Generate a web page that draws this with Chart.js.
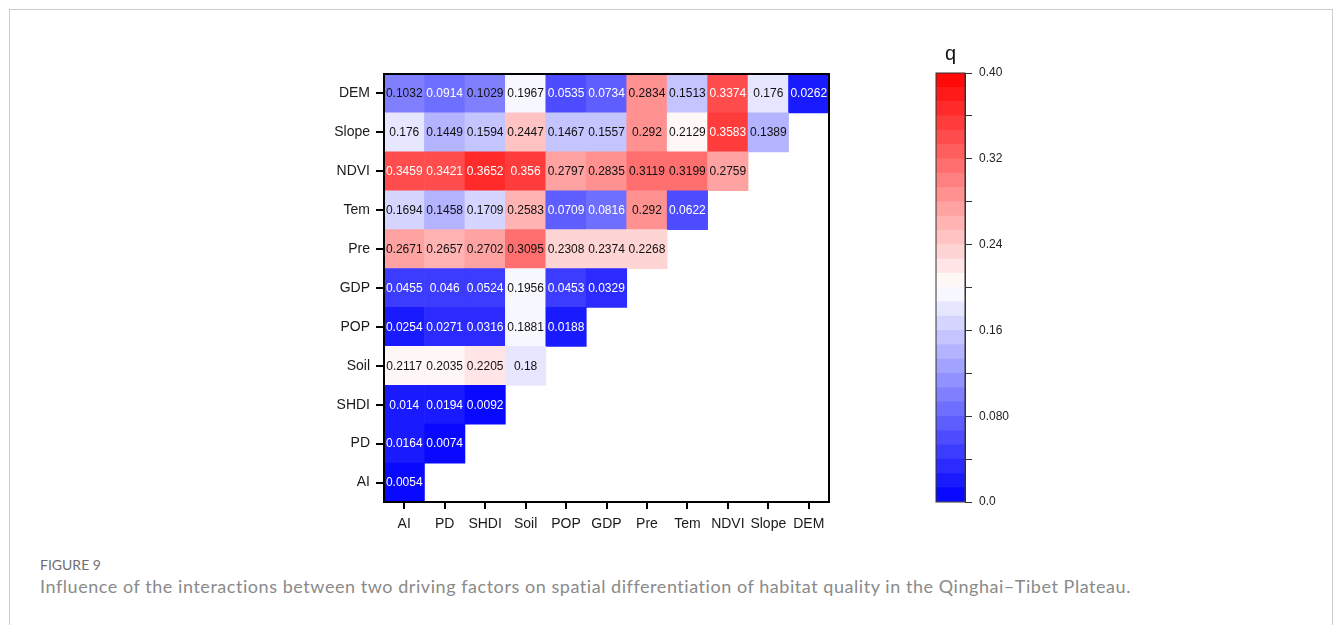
<!DOCTYPE html>
<html>
<head>
<meta charset="utf-8">
<script src="https://cdn.jsdelivr.net/npm/chart.js@4.4.1/dist/chart.umd.min.js"></script>
<style>
  body { margin: 0; background: #fff; width: 1333px; height: 625px; overflow: hidden; position: relative; }
  #frame { position: absolute; left: 9px; top: 9px; width: 1322px; height: 640px; border: 1px solid #ccc; }
  #mainWrap { position: absolute; left: 300px; top: 40px; width: 535px; height: 502px; }
  #barWrap { position: absolute; left: 900px; top: 40px; width: 140px; height: 480px; }
  .fig { position: absolute; left: 40px; top: 556px; font: 14px Lato, sans-serif; color: #6f6f6f; }
  .cap { position: absolute; left: 40px; top: 575px; font: 18px Lato, sans-serif; color: #8a8a8a; letter-spacing: 0.55px; }
</style>
</head>
<body>
<div id="frame"></div>
<div id="mainWrap"><canvas id="heatChart"></canvas></div>
<div id="barWrap"><canvas id="scaleChart"></canvas></div>
<div class="fig">FIGURE 9</div>
<div class="cap">Influence of the interactions between two driving factors on spatial differentiation of habitat quality in the Qinghai–Tibet Plateau.</div>
<script>
// factors, bottom row first on the y axis, left to right on the x axis
const factors = ['AI', 'PD', 'SHDI', 'Soil', 'POP', 'GDP', 'Pre', 'Tem', 'NDVI', 'Slope', 'DEM'];

// q values per row (row factor x column factor)
const qAI = [0.0054];
const qPD = [0.0164, 0.0074];
const qSHDI = [0.014, 0.0194, 0.0092];
const qSoil = [0.2117, 0.2035, 0.2205, 0.18];
const qPOP = [0.0254, 0.0271, 0.0316, 0.1881, 0.0188];
const qGDP = [0.0455, 0.046, 0.0524, 0.1956, 0.0453, 0.0329];
const qPre = [0.2671, 0.2657, 0.2702, 0.3095, 0.2308, 0.2374, 0.2268];
const qTem = [0.1694, 0.1458, 0.1709, 0.2583, 0.0709, 0.0816, 0.292, 0.0622];
const qNDVI = [0.3459, 0.3421, 0.3652, 0.356, 0.2797, 0.2835, 0.3119, 0.3199, 0.2759];
const qSlope = [0.176, 0.1449, 0.1594, 0.2447, 0.1467, 0.1557, 0.292, 0.2129, 0.3583, 0.1389];
const qDEM = [0.1032, 0.0914, 0.1029, 0.1967, 0.0535, 0.0734, 0.2834, 0.1513, 0.3374, 0.176, 0.0262];

const rows = [qAI, qPD, qSHDI, qSoil, qPOP, qGDP, qPre, qTem, qNDVI, qSlope, qDEM];

// colour bar
const scaleMin = 0;
const scaleMax = 0.4;
const scaleSteps = 30;
const scaleTicks = [0, 0.04, 0.08, 0.12, 0.16, 0.2, 0.24, 0.28, 0.32, 0.36, 0.4];
const scaleTickLabels = ['0.0', '', '0.080', '', '0.16', '', '0.24', '', '0.32', '', '0.40'];

function bandColor(i) {
    const t = (i + 0.5) / scaleSteps;
    let r, g, b;
    if (t < 0.5) {
        const k = t / 0.5;
        r = g = Math.round(255 * k); b = 255;
    } else {
        const k = (1 - t) / 0.5;
        r = 255; g = b = Math.round(255 * k);
    }
    return `rgb(${r},${g},${b})`;
}
function qColor(v) {
    let i = Math.floor((v - scaleMin) / (scaleMax - scaleMin) * scaleSteps);
    i = Math.max(0, Math.min(scaleSteps - 1, i));
    return bandColor(i);
}

const heatSets = rows.map((vals, r) => ({
    label: factors[r],
    data: factors.map((f, c) => c < vals.length ? [r, r + 1] : null),
    backgroundColor: factors.map((f, c) => c < vals.length ? qColor(vals[c]) : 'rgba(0,0,0,0)'),
    borderWidth: 0,
    grouped: false,
    barPercentage: 1,
    categoryPercentage: 1
}));

const frameBox = {
    id: 'frameBox',
    afterDraw(chart, args, opts) {
        const a = chart.chartArea, ctx = chart.ctx;
        ctx.save();
        ctx.strokeStyle = opts.color;
        ctx.lineWidth = opts.width;
        ctx.strokeRect(a.left, a.top, a.right - a.left, a.bottom - a.top);
        ctx.restore();
    }
};

const cellText = {
    id: 'cellText',
    afterDatasetsDraw(chart) {
        const ctx = chart.ctx, x = chart.scales.x, y = chart.scales.y;
        ctx.save();
        ctx.font = '12px "Liberation Sans", Arial, sans-serif';
        ctx.textAlign = 'center';
        ctx.textBaseline = 'middle';
        rows.forEach((vals, r) => {
            vals.forEach((v, c) => {
                ctx.fillStyle = (v < 0.095 || v > 0.33) ? '#fff' : '#111';
                ctx.fillText(String(v), x.getPixelForValue(c), y.getPixelForValue(r + 0.5) + 0.5);
            });
        });
        ctx.restore();
    }
};

const axisFont = { family: '"Liberation Sans", Arial, sans-serif', size: 14 };

const heatChart = new Chart(document.getElementById('heatChart'), {
    type: 'bar',
    data: { labels: factors, datasets: heatSets },
    options: {
        responsive: true,
        maintainAspectRatio: false,
        animation: false,
        layout: { padding: { top: 34, right: 6, left: 0, bottom: 0 } },
        plugins: {
            legend: { display: false },
            tooltip: { enabled: false },
            frameBox: { color: '#000', width: 2 }
        },
        scales: {
            x: {
                offset: true,
                grid: { display: true, drawOnChartArea: false, offset: false, color: '#000', lineWidth: 2, tickLength: 7 },
                border: { display: true, color: '#000', width: 2 },
                ticks: { color: '#1a1a1a', font: axisFont, padding: 7, maxRotation: 0, autoSkip: false },
                afterFit: s => { s.height = 40; }
            },
            y: {
                min: 0,
                max: 11,
                grid: { display: true, drawOnChartArea: false, color: '#000', lineWidth: 2, tickLength: 8 },
                border: { display: true, color: '#000', width: 2 },
                ticks: {
                    color: '#1a1a1a', font: axisFont, padding: 6, autoSkip: false,
                    callback: (v) => factors[Math.floor(v)]
                },
                afterBuildTicks: s => { s.ticks = factors.map((f, i) => ({ value: i + 0.5 })); },
                afterFit: s => { s.width = 84; }
            }
        }
    },
    plugins: [frameBox, cellText]
});

// colour bar drawn as stacked floating bands
const bandSets = [];
for (let i = 0; i < scaleSteps; i++) {
    const lo = scaleMin + (scaleMax - scaleMin) * i / scaleSteps;
    const hi = scaleMin + (scaleMax - scaleMin) * (i + 1) / scaleSteps;
    bandSets.push({
        data: [[lo, hi]],
        backgroundColor: bandColor(i),
        borderWidth: 0,
        grouped: false,
        barPercentage: 1,
        categoryPercentage: 1
    });
}

const qTitle = {
    id: 'qTitle',
    afterDraw(chart) {
        const a = chart.chartArea, ctx = chart.ctx;
        ctx.save();
        ctx.font = '20px "Liberation Sans", Arial, sans-serif';
        ctx.fillStyle = '#111';
        ctx.textAlign = 'center';
        ctx.textBaseline = 'bottom';
        ctx.fillText('q', (a.left + a.right) / 2, a.top - 9);
        ctx.restore();
    }
};

const scaleChart = new Chart(document.getElementById('scaleChart'), {
    type: 'bar',
    data: { labels: ['q'], datasets: bandSets },
    options: {
        responsive: true,
        maintainAspectRatio: false,
        animation: false,
        layout: { padding: { top: 33, bottom: 18, left: 36, right: 0 } },
        plugins: {
            legend: { display: false },
            tooltip: { enabled: false },
            frameBox: { color: '#333', width: 1 }
        },
        scales: {
            x: { display: false },
            y: {
                position: 'right',
                min: scaleMin,
                max: scaleMax,
                grid: { display: true, drawOnChartArea: false, color: '#333', lineWidth: 1, tickLength: 7 },
                border: { display: true, color: '#333', width: 1 },
                ticks: {
                    color: '#222', font: { family: '"Liberation Sans", Arial, sans-serif', size: 12 }, padding: 7, autoSkip: false,
                    callback: (v, i) => scaleTickLabels[i]
                },
                afterBuildTicks: s => { s.ticks = scaleTicks.map(v => ({ value: v })); },
                afterFit: s => { s.width = 75; }
            }
        }
    },
    plugins: [frameBox, qTitle]
});
</script>
</body>
</html>
